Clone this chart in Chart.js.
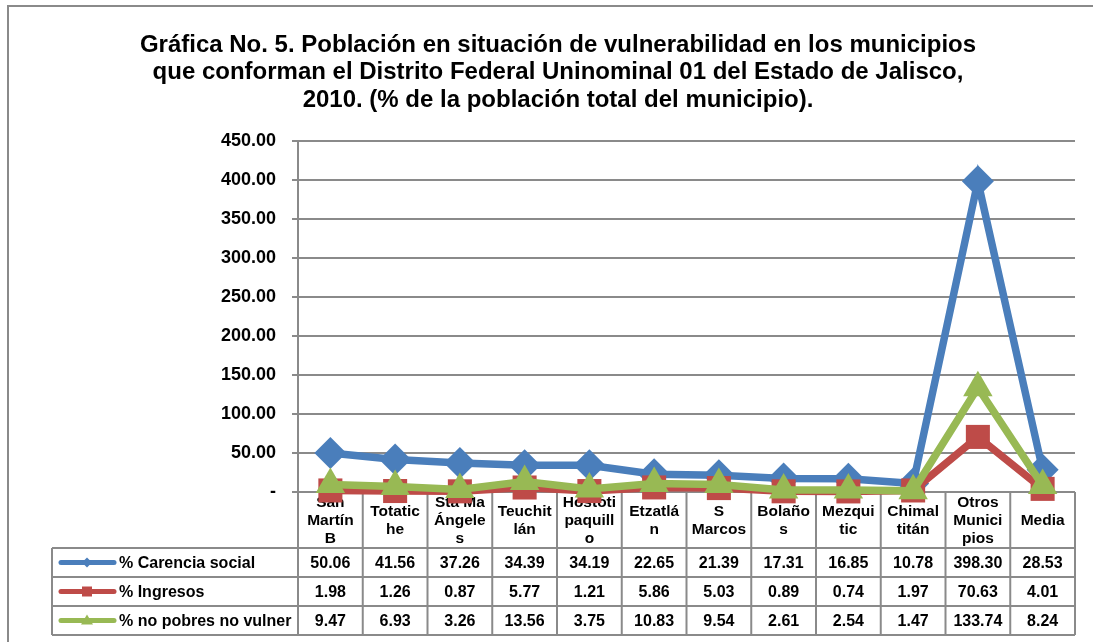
<!DOCTYPE html>
<html>
<head>
<meta charset="utf-8">
<script src="https://cdn.jsdelivr.net/npm/chart.js@4.4.0/dist/chart.umd.min.js"></script>
<style>
  html, body { margin: 0; padding: 0; background: #fff; }
  #wrap { width: 1093px; height: 642px; }
</style>
</head>
<body>
<div id="wrap"><canvas id="chart" width="1093" height="642"></canvas></div>
<script>
// --- data ---
const titleLines = [
    'Gráfica No. 5. Población en situación de vulnerabilidad en los municipios',
    'que conforman el Distrito Federal Uninominal 01 del Estado de Jalisco,',
    '2010. (% de la población total del municipio).'
];
const municipios = [
    ['San', 'Martín', 'B'], ['Totatic', 'he'], ['Sta Ma', 'Ángele', 's'], ['Teuchit', 'lán'],
    ['Hostoti', 'paquill', 'o'], ['Etzatlá', 'n'], ['S', 'Marcos'], ['Bolaño', 's'],
    ['Mezqui', 'tic'], ['Chimal', 'titán'], ['Otros', 'Munici', 'pios'], ['Media']
];
const seriesNames = ['% Carencia social', '% Ingresos', '% no pobres no vulner'];
const carenciaSocial = [50.06, 41.56, 37.26, 34.39, 34.19, 22.65, 21.39, 17.31, 16.85, 10.78, 398.30, 28.53];
const ingresos = [1.98, 1.26, 0.87, 5.77, 1.21, 5.86, 5.03, 0.89, 0.74, 1.97, 70.63, 4.01];
const noPobresNoVulner = [9.47, 6.93, 3.26, 13.56, 3.75, 10.83, 9.54, 2.61, 2.54, 1.47, 133.74, 8.24];

const FONT = 'Arial, "Liberation Sans", sans-serif';
const GRID = '#8a8a8a';

// title, outer frame and data table drawn by hand
const tablePlugin = {
    id: 'tablePlugin',
    beforeDraw(chart) {
        const ctx = chart.ctx;
        ctx.save();
        ctx.strokeStyle = GRID;
        ctx.lineWidth = 2;
        ctx.strokeRect(8, 6, 1200, 800);
        ctx.fillStyle = '#000';
        ctx.font = 'bold 24px ' + FONT;
        ctx.textAlign = 'center';
        ctx.textBaseline = 'middle';
        titleLines.forEach((t, i) => ctx.fillText(t, 558, 45 + i * 27.5));
        ctx.restore();
    },
    beforeDatasetsDraw(chart) {
        const ctx = chart.ctx;
        const x = chart.scales.x;
        const area = chart.chartArea;
        const n = municipios.length;
        const colW = (area.right - area.left) / n;
        const headTop = area.bottom, headBot = 548;
        const rowYs = [548, 577, 606, 635];
        const legLeft = 52;
        ctx.save();
        ctx.strokeStyle = GRID;
        ctx.lineWidth = 2;
        // header cells
        ctx.beginPath();
        for (let i = 0; i <= n; i++) {
            const cx = area.left + i * colW;
            ctx.moveTo(cx, headTop);
            ctx.lineTo(cx, rowYs[3]);
        }
        ctx.moveTo(area.left, headBot);
        ctx.lineTo(area.right, headBot);
        // body rows
        for (let r = 0; r < rowYs.length; r++) {
            ctx.moveTo(legLeft, rowYs[r]);
            ctx.lineTo(area.right, rowYs[r]);
        }
        ctx.moveTo(legLeft, rowYs[0]);
        ctx.lineTo(legLeft, rowYs[3]);
        ctx.stroke();

        // header labels
        ctx.fillStyle = '#000';
        ctx.font = 'bold 15.5px ' + FONT;
        ctx.textAlign = 'center';
        ctx.textBaseline = 'middle';
        municipios.forEach((lines, i) => {
            const cx = x.getPixelForValue(i);
            const lh = 18;
            const mid = (headTop + headBot) / 2 + 1;
            lines.forEach((l, j) => {
                ctx.fillText(l, cx, mid + (j - (lines.length - 1) / 2) * lh);
            });
        });

        // rows with legend keys
        chart.data.datasets.forEach((ds, r) => {
            const cy = (rowYs[r] + rowYs[r + 1]) / 2;
            ctx.strokeStyle = ds.borderColor;
            ctx.lineWidth = 5;
            ctx.lineCap = 'round';
            ctx.beginPath();
            ctx.moveTo(61, cy);
            ctx.lineTo(114, cy);
            ctx.stroke();
            ctx.fillStyle = ds.borderColor;
            ctx.beginPath();
            if (r === 0) {
                ctx.moveTo(87, cy - 5); ctx.lineTo(92, cy); ctx.lineTo(87, cy + 5); ctx.lineTo(82, cy);
            } else if (r === 1) {
                ctx.rect(82, cy - 5, 10, 10);
            } else {
                ctx.moveTo(87, cy - 6); ctx.lineTo(93, cy + 4); ctx.lineTo(81, cy + 4);
            }
            ctx.closePath();
            ctx.fill();
            ctx.fillStyle = '#000';
            ctx.font = 'bold 16px ' + FONT;
            ctx.textAlign = 'left';
            ctx.fillText(ds.label, 119, cy + 1);
            ctx.textAlign = 'center';
            ds.data.forEach((v, i) => {
                ctx.fillText(v.toFixed(2), x.getPixelForValue(i), cy + 1);
            });
        });
        ctx.restore();
    }
};

function makeSet(label, data, color, style, radius, order) {
    return {
        label: label,
        data: data,
        order: order,
        borderColor: color,
        backgroundColor: color,
        pointBackgroundColor: color,
        pointBorderColor: color,
        pointBorderWidth: 0,
        pointStyle: style,
        pointRadius: radius,
        pointHoverRadius: radius,
        borderWidth: 7.5,
        tension: 0,
        clip: false
    };
}

new Chart(document.getElementById('chart').getContext('2d'), {
    type: 'line',
    data: {
        labels: municipios,
        datasets: [
            makeSet(seriesNames[0], carenciaSocial, '#4a7ebb', 'rectRot', 16, 3),
            makeSet(seriesNames[1], ingresos, '#be4b48', 'rect', 17, 2),
            makeSet(seriesNames[2], noPobresNoVulner, '#98b954', 'triangle', 17, 1)
        ]
    },
    options: {
        responsive: false,
        animation: false,
        devicePixelRatio: 1,
        layout: { padding: { left: 0, right: 18, top: 141, bottom: 150 } },
        plugins: {
            legend: { display: false },
            title: { display: false },
            tooltip: { enabled: false }
        },
        scales: {
            x: {
                display: false,
                offset: true
            },
            y: {
                min: 0,
                max: 450,
                afterFit(scale) { scale.width = 298; },
                border: { color: GRID, width: 2 },
                grid: { color: GRID, lineWidth: 2, tickLength: 6, drawTicks: true },
                ticks: {
                    stepSize: 50,
                    padding: 16,
                    color: '#000',
                    font: { family: FONT, size: 18, weight: 'bold' },
                    callback: v => v === 0 ? '-' : v.toFixed(2)
                }
            }
        }
    },
    plugins: [tablePlugin]
});
</script>
</body>
</html>
